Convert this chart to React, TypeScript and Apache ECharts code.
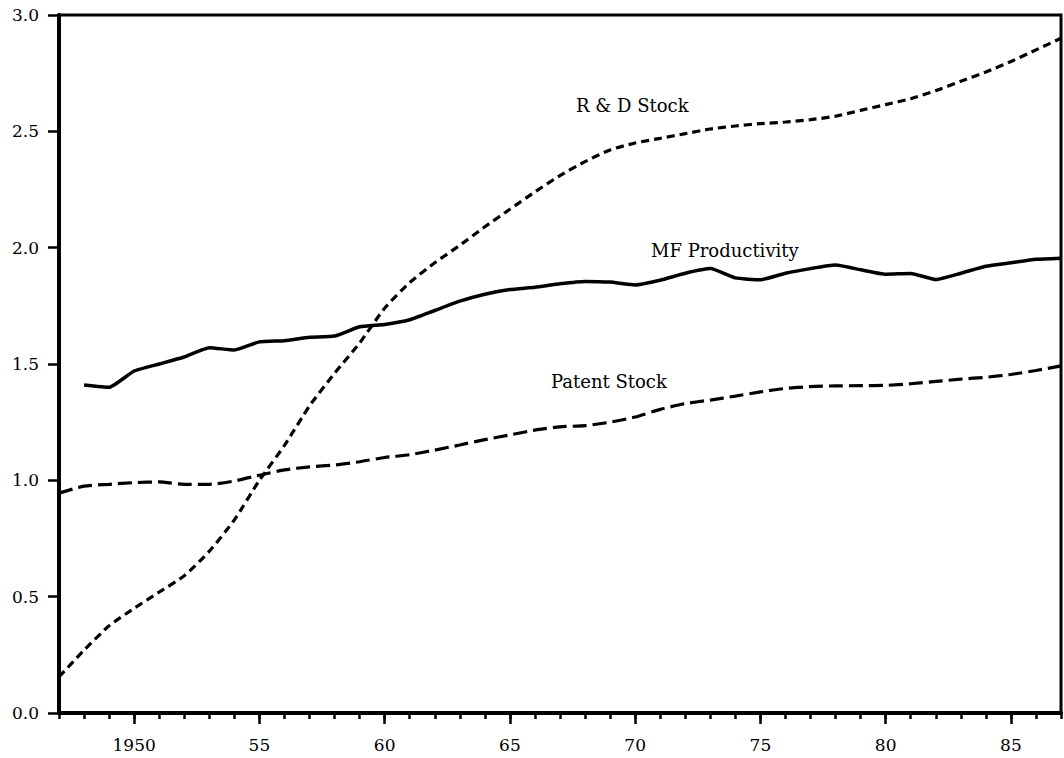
import React, { useEffect, useRef } from "react";
import * as echarts from "echarts";

const years: number[] = [];
for (let y = 1947; y <= 1987; y++) years.push(y);

// 1947..1987
const rdStock = [
  0.155, 0.27, 0.375, 0.45, 0.52, 0.59, 0.695, 0.83, 1.0, 1.15,
  1.32, 1.46, 1.59, 1.74, 1.85, 1.935, 2.01, 2.09, 2.165, 2.24,
  2.31, 2.37, 2.42, 2.45, 2.47, 2.49, 2.51, 2.523, 2.533, 2.54,
  2.55, 2.565, 2.59, 2.615, 2.64, 2.675, 2.715, 2.755, 2.8, 2.85, 2.9,
];

// 1947..1987
const patentStock = [
  0.945, 0.975, 0.983, 0.99, 0.993, 0.983, 0.983, 0.997, 1.022, 1.045,
  1.058, 1.066, 1.08, 1.098, 1.11, 1.13, 1.152, 1.175, 1.195, 1.216,
  1.23, 1.235, 1.25, 1.272, 1.305, 1.33, 1.345, 1.362, 1.38, 1.395,
  1.403, 1.406, 1.407, 1.408, 1.415, 1.425, 1.435, 1.443, 1.455, 1.472, 1.492,
];

// 1948..1987
const mfYears: number[] = [];
for (let y = 1948; y <= 1987; y++) mfYears.push(y);
const mfProductivity = [
  1.41, 1.4, 1.47, 1.5, 1.53, 1.57, 1.56, 1.595, 1.6, 1.615,
  1.62, 1.66, 1.67, 1.69, 1.73, 1.77, 1.8, 1.82, 1.83, 1.845,
  1.855, 1.852, 1.84, 1.86, 1.89, 1.91, 1.87, 1.862, 1.89, 1.91,
  1.925, 1.905, 1.886, 1.889, 1.863, 1.89, 1.92, 1.935, 1.95, 1.955,
];

const majorYears = [1950, 1955, 1960, 1965, 1970, 1975, 1980, 1985];
const yTicks = [0, 0.5, 1.0, 1.5, 2.0, 2.5, 3.0];

const labelRD = "R & D Stock";
const labelMF = "MF Productivity";
const labelPatent = "Patent Stock";

const FONT = "'DejaVu Serif', 'Liberation Serif', serif";

export default function App() {
  const ref = useRef<HTMLDivElement>(null);
  useEffect(() => {
    if (!ref.current) return;
    const chart = echarts.init(ref.current, null, { renderer: "svg" });
    const zip = (xs: number[], vs: number[]) => xs.map((x, i) => [x, vs[i]]);
    chart.setOption({
      animation: false,
      backgroundColor: "#ffffff",
      grid: {
        left: 59,
        right: 3,
        top: 15,
        bottom: 45,
        show: true,
        borderColor: "#000",
        borderWidth: 3,
      },
      xAxis: [
        {
          type: "value",
          min: 1947,
          max: 1987,
          splitLine: { show: false },
          axisLine: { show: true, lineStyle: { color: "#000", width: 4 } },
          axisTick: {
            show: true,
            customValues: majorYears,
            length: 11,
            inside: false,
            lineStyle: { color: "#000", width: 2.5 },
          },
          axisLabel: {
            customValues: majorYears,
            margin: 23,
            color: "#000",
            fontFamily: FONT,
            fontSize: 17,
            formatter: (v: number) => (v === 1950 ? "1950" : String(v).slice(2)),
          },
        },
        {
          type: "value",
          min: 1947,
          max: 1987,
          interval: 1,
          position: "bottom",
          splitLine: { show: false },
          axisLine: { show: false },
          axisTick: {
            show: true,
            length: 6,
            lineStyle: { color: "#000", width: 2.5 },
          },
          axisLabel: { show: false },
        },
      ],
      yAxis: {
        type: "value",
        min: 0,
        max: 3,
        interval: 0.5,
        splitLine: { show: false },
        axisLine: { show: true, lineStyle: { color: "#000", width: 4 } },
        axisTick: {
          show: true,
          length: 11,
          lineStyle: { color: "#000", width: 2.5 },
        },
        axisLabel: {
          margin: 20,
          color: "#000",
          fontFamily: FONT,
          fontSize: 17,
          formatter: (v: number) => (yTicks.includes(v) ? v.toFixed(1) : ""),
        },
      },
      series: [
        {
          name: labelRD,
          type: "line",
          data: zip(years, rdStock),
          showSymbol: false,
          smooth: 0.2,
          lineStyle: { color: "#000", width: 3.2, type: [8, 5] },
        },
        {
          name: labelPatent,
          type: "line",
          data: zip(years, patentStock),
          showSymbol: false,
          smooth: 0.2,
          lineStyle: { color: "#000", width: 3.2, type: [14, 6] },
        },
        {
          name: labelMF,
          type: "line",
          data: zip(mfYears, mfProductivity),
          showSymbol: false,
          smooth: 0.15,
          lineStyle: { color: "#000", width: 3.5 },
        },
      ],
      graphic: [
        {
          type: "text",
          left: 576,
          top: 96,
          style: { text: labelRD, font: `18px ${FONT}`, fill: "#000" },
        },
        {
          type: "text",
          left: 651,
          top: 241,
          style: { text: labelMF, font: `18px ${FONT}`, fill: "#000" },
        },
        {
          type: "text",
          left: 551,
          top: 372,
          style: { text: labelPatent, font: `18px ${FONT}`, fill: "#000" },
        },
      ],
    });
    return () => chart.dispose();
  }, []);
  return (
    <div
      ref={ref}
      style={{ position: "fixed", left: 0, top: 0, width: 1064, height: 758 }}
    />
  );
}
